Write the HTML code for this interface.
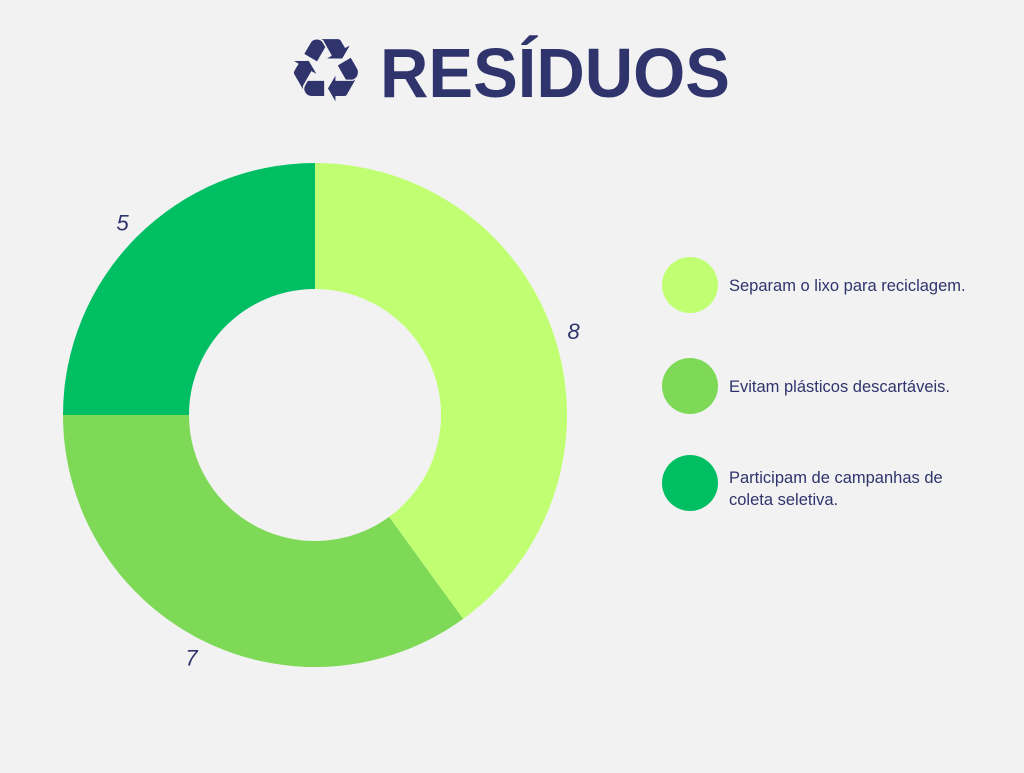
<!DOCTYPE html>
<html><head><meta charset="utf-8"><style>
body{margin:0;background:#f2f2f2;width:1024px;height:768px;overflow:hidden;font-family:"Liberation Sans",sans-serif}
</style></head><body>
<svg width="1024" height="768" viewBox="0 0 1024 768">
<text x="326" y="101" font-family="DejaVu Sans,sans-serif" font-size="88" fill="#2f346d" text-anchor="middle">♻</text>
<text x="380" y="97" font-family="Liberation Sans,sans-serif" font-weight="bold" font-size="70" fill="#2f346d" textLength="350" lengthAdjust="spacingAndGlyphs">RESÍDUOS</text>
<g id="donut"></g>
<g id="legend"></g>
</svg>
<script>
const categories=["Separam o lixo para reciclagem.","Evitam plásticos descartáveis.","Participam de campanhas de coleta seletiva."];
const values=[8,7,5];
const colors=["#c1ff72","#7ed957","#00bf63"];
const NS="http://www.w3.org/2000/svg";
const cx=315,cy=415,R=252,r=126,LR=272;
const total=values.reduce((a,b)=>a+b,0);
const g=document.getElementById('donut');
let a0=0;
function pt(rad,a){return [cx+rad*Math.sin(a),cy-rad*Math.cos(a)];}
values.forEach((v,i)=>{
  const a1=a0+v/total*2*Math.PI;
  const [x0,y0]=pt(R,a0),[x1,y1]=pt(R,a1),[x2,y2]=pt(r,a1),[x3,y3]=pt(r,a0);
  const lg=(a1-a0)>Math.PI?1:0;
  const p=document.createElementNS(NS,'path');
  p.setAttribute('d',`M${x0},${y0}A${R},${R} 0 ${lg} 1 ${x1},${y1}L${x2},${y2}A${r},${r} 0 ${lg} 0 ${x3},${y3}Z`);
  p.setAttribute('fill',colors[i]);
  
  
  g.appendChild(p);
  const am=(a0+a1)/2;
  const [lx,ly]=pt(LR,am);
  const t=document.createElementNS(NS,'text');
  t.setAttribute('x',lx);t.setAttribute('y',ly+8);
  t.setAttribute('text-anchor','middle');
  t.setAttribute('font-size','22');t.setAttribute('font-style','italic');
  t.setAttribute('fill','#2f346d');
  t.textContent=v;
  
  
  g.appendChild(t);
  a0=a1;
});
const lg=document.getElementById('legend');
const ly=[285,386,483];
categories.forEach((c,i)=>{
  const e=document.createElementNS(NS,'circle');
  e.setAttribute('cx',690);e.setAttribute('cy',ly[i]);e.setAttribute('r',28);
  e.setAttribute('fill',colors[i]);
  
  
  lg.appendChild(e);
  const t=document.createElementNS(NS,'text');
  t.setAttribute('font-size','16.5');t.setAttribute('fill','#2f346d');
  
  
  const lines=i==2?["Participam de campanhas de","coleta seletiva."]:[c];
  lines.forEach((s,j)=>{
    const sp=document.createElementNS(NS,'tspan');
    sp.setAttribute('x',729);sp.setAttribute('y',(i==2?ly[i]-6:ly[i])-5+j*22+11);
    sp.textContent=s;t.appendChild(sp);
  });
  lg.appendChild(t);
});
</script>
</body></html>
